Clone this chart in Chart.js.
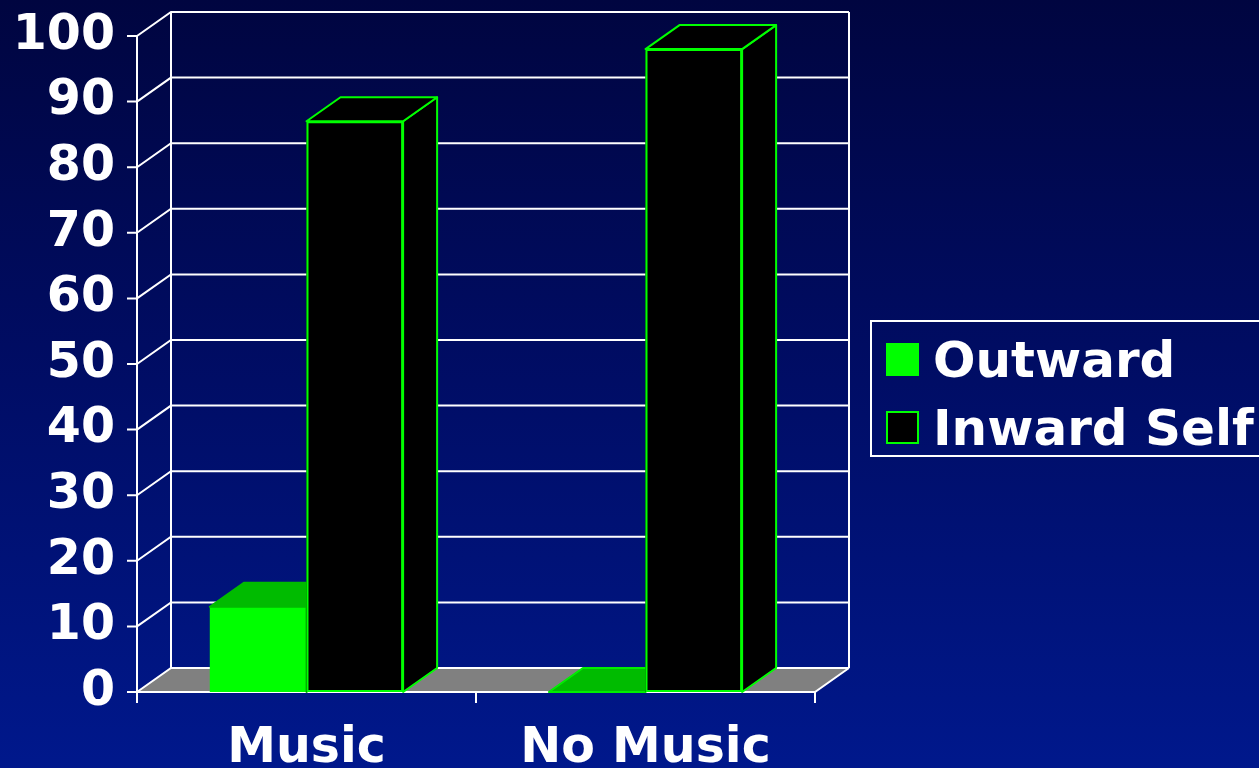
<!DOCTYPE html>
<html>
<head>
<meta charset="utf-8">
<script src="https://cdn.jsdelivr.net/npm/chart.js@4/dist/chart.umd.min.js"></script>
<style>
  html, body { margin: 0; padding: 0; }
  body { width: 1259px; height: 768px; overflow: hidden;
         background: linear-gradient(to bottom, #000540 0%, #000c62 45%, #00188c 100%); }
  #wrap { position: relative; width: 1259px; height: 768px; }
</style>
</head>
<body>
<div id="wrap"><canvas id="c" width="1259" height="768"></canvas></div>
<script>
const categories = ["Music", "No Music"];
const seriesNames = ["Outward", "Inward Self"];
const outwardValues = [13, 0];
const inwardValues = [87, 98];
const yTicks = [0, 10, 20, 30, 40, 50, 60, 70, 80, 90, 100];

const FONT = "'DejaVu Sans', Verdana, sans-serif";
const DX = 34, DY = -24;

const threeD = {
  id: 'threeD',
  beforeDatasetsDraw(chart) {
    const ctx = chart.ctx;
    const y = chart.scales.y;
    const L = chart.chartArea.left, R = chart.chartArea.right;
    const y0 = y.getPixelForValue(0), yTop = y.getPixelForValue(100);
    ctx.save();
    ctx.fillStyle = '#808080';
    ctx.beginPath();
    ctx.moveTo(L, y0); ctx.lineTo(L + DX, y0 + DY); ctx.lineTo(R + DX, y0 + DY); ctx.lineTo(R, y0);
    ctx.closePath(); ctx.fill();
    ctx.strokeStyle = '#ffffff';
    ctx.lineWidth = 2;
    ctx.beginPath();
    yTicks.forEach(v => {
      const py = y.getPixelForValue(v);
      ctx.moveTo(L, py); ctx.lineTo(L + DX, py + DY);
      ctx.lineTo(R + DX, py + DY);
      ctx.moveTo(L - 10, py); ctx.lineTo(L, py);
    });
    ctx.moveTo(L, yTop); ctx.lineTo(L, y0);
    ctx.moveTo(L + DX, yTop + DY); ctx.lineTo(L + DX, y0 + DY);
    ctx.moveTo(R + DX, yTop + DY); ctx.lineTo(R + DX, y0 + DY);
    ctx.moveTo(L, y0); ctx.lineTo(R, y0); ctx.lineTo(R + DX, y0 + DY);
    const n = categories.length;
    for (let i = 0; i <= n; i++) {
      const px = L + (R - L) * i / n;
      ctx.moveTo(px, y0); ctx.lineTo(px, y0 + 11);
    }
    ctx.stroke();
    ctx.restore();
  },
  afterDatasetsDraw(chart) {
    const ctx = chart.ctx;
    const metas = chart.data.datasets.map((d, i) => chart.getDatasetMeta(i));
    ctx.save();
    ctx.lineWidth = 2;
    ctx.lineJoin = 'round';
    categories.forEach((c, ci) => {
      metas.forEach((meta, di) => {
        const ds = chart.data.datasets[di];
        const bar = meta.data[ci];
        const p = bar.getProps(['x', 'y', 'base', 'width'], true);
        const l = p.x - p.width / 2, r = p.x + p.width / 2;
        const t = Math.min(p.y, p.base), b = Math.max(p.y, p.base);
        const hasH = b - t > 0.5;
        if (hasH) {
          ctx.fillStyle = ds.backgroundColor;
          ctx.fillRect(l, t, r - l, b - t);
          if (ds.borderWidth) {
            ctx.strokeStyle = ds.borderColor;
            ctx.strokeRect(l + 1, t + 1, r - l - 2, b - t - 2);
          }
          ctx.beginPath();
          ctx.moveTo(r, t); ctx.lineTo(r + DX, t + DY); ctx.lineTo(r + DX, b + DY); ctx.lineTo(r, b); ctx.closePath();
          ctx.fillStyle = ds.sideColor; ctx.fill();
          ctx.strokeStyle = ds.edgeColor; ctx.stroke();
        }
        ctx.beginPath();
        ctx.moveTo(l, t); ctx.lineTo(l + DX, t + DY); ctx.lineTo(r + DX, t + DY); ctx.lineTo(r, t); ctx.closePath();
        ctx.fillStyle = ds.topColor; ctx.fill();
        ctx.strokeStyle = hasH ? ds.edgeColor : '#00ee00'; ctx.stroke();
      });
    });
    ctx.restore();
  },
  afterDraw(chart) {
    const ctx = chart.ctx;
    ctx.save();
    ctx.strokeStyle = '#ffffff';
    ctx.lineWidth = 2;
    ctx.strokeRect(871, 321, 420, 135);
    ctx.font = "bold 50px " + FONT;
    ctx.textBaseline = 'alphabetic';
    ctx.textAlign = 'left';
    const rows = [359, 427];
    chart.data.datasets.forEach((ds, i) => {
      const cy = rows[i];
      ctx.fillStyle = ds.backgroundColor;
      ctx.fillRect(886, cy - 16, 33, 33);
      if (ds.borderWidth) {
        ctx.strokeStyle = ds.borderColor; ctx.lineWidth = 2;
        ctx.strokeRect(887, cy - 15, 31, 31);
      }
      ctx.fillStyle = '#ffffff';
      ctx.fillText(ds.label, 933, cy + 18);
    });
    ctx.restore();
  }
};

new Chart(document.getElementById('c'), {
  type: 'bar',
  data: {
    labels: categories,
    datasets: [
      { label: seriesNames[0], data: outwardValues, backgroundColor: '#00ff00', borderWidth: 0,
        borderColor: '#00ff00', topColor: '#00bb00', sideColor: '#00bb00', edgeColor: '#00bb00' },
      { label: seriesNames[1], data: inwardValues, backgroundColor: '#000000', borderWidth: 2,
        borderColor: '#00ff00', borderSkipped: false, topColor: '#000000', sideColor: '#000000', edgeColor: '#00ff00' }
    ]
  },
  options: {
    responsive: false,
    animation: false,
    events: [],
    layout: { padding: { top: 36, right: 444, left: 0, bottom: 0 } },
    plugins: { legend: { display: false }, tooltip: { enabled: false } },
    datasets: { bar: { categoryPercentage: 0.57, barPercentage: 1.0 } },
    scales: {
      x: {
        grid: { display: false, drawTicks: false },
        border: { display: false },
        ticks: { color: '#ffffff', font: { family: FONT, size: 49, weight: 'bold' }, padding: 28, maxRotation: 0 },
        afterFit: s => { s.height = 76; s.paddingLeft = 0; s.paddingRight = 0; }
      },
      y: {
        min: 0, max: 100,
        grid: { display: false, drawTicks: false },
        border: { display: false },
        ticks: { stepSize: 10, color: '#ffffff', font: { family: FONT, size: 49, weight: 'bold' }, padding: 22 },
        afterFit: s => { s.width = 137; s.paddingTop = 0; s.paddingBottom = 0; }
      }
    }
  },
  plugins: [threeD]
});
</script>
</body>
</html>
